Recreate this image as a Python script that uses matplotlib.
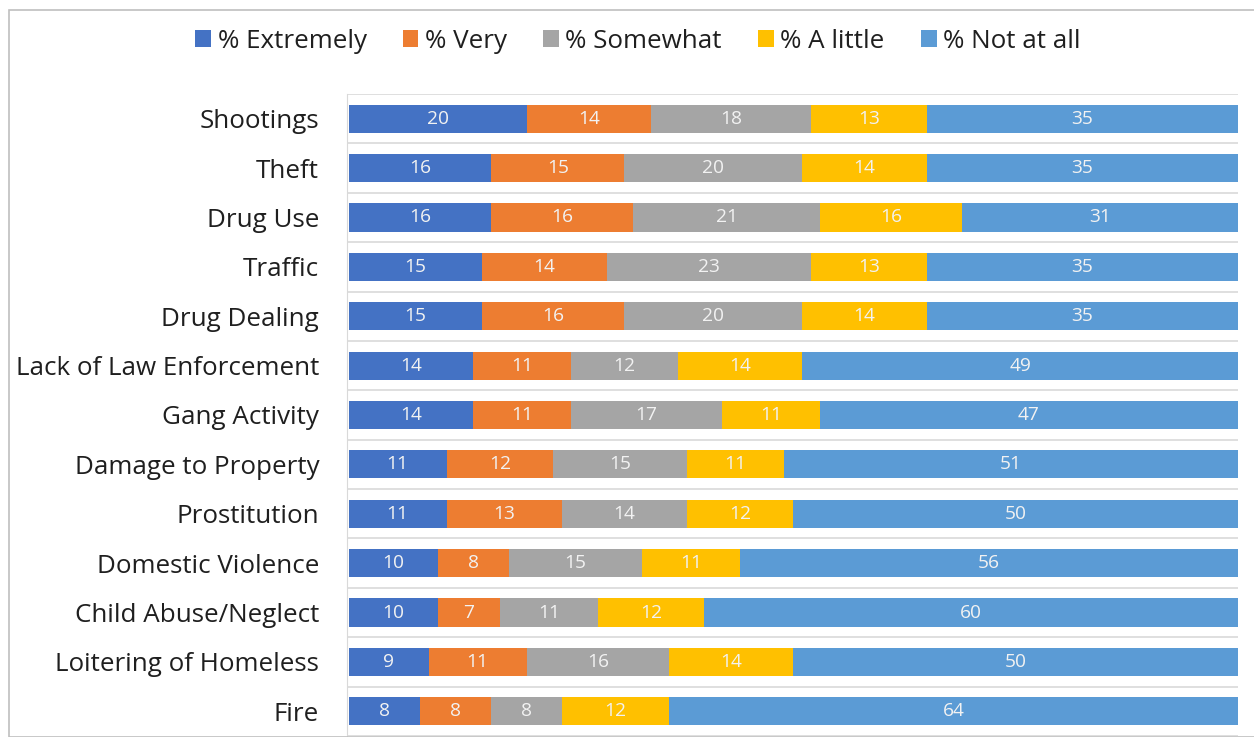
import matplotlib.pyplot as plt
from matplotlib.patches import Rectangle

plt.rcParams['font.family'] = ['Open Sans', 'DejaVu Sans']

categories = ['Shootings', 'Theft', 'Drug Use', 'Traffic', 'Drug Dealing',
              'Lack of Law Enforcement', 'Gang Activity', 'Damage to Property',
              'Prostitution', 'Domestic Violence', 'Child Abuse/Neglect',
              'Loitering of Homeless', 'Fire']
extremely = [20, 16, 16, 15, 15, 14, 14, 11, 11, 10, 10, 9, 8]
very = [14, 15, 16, 14, 16, 11, 11, 12, 13, 8, 7, 11, 8]
somewhat = [18, 20, 21, 23, 20, 12, 17, 15, 14, 15, 11, 16, 8]
a_little = [13, 14, 16, 13, 14, 14, 11, 11, 12, 11, 12, 14, 12]
not_at_all = [35, 35, 31, 35, 35, 49, 47, 51, 50, 56, 60, 50, 64]

series = [('% Extremely', extremely, '#4472C4'),
          ('% Very', very, '#ED7D31'),
          ('% Somewhat', somewhat, '#A5A5A5'),
          ('% A little', a_little, '#FFC000'),
          ('% Not at all', not_at_all, '#5B9BD5')]

W, H = 1254, 737
fig = plt.figure(figsize=(W / 100, H / 100), dpi=100)
ax = fig.add_axes([347 / W, 1 - 736 / H, (1238 - 347) / W, (736 - 94) / H])

# outer chart border
fig.patches.append(Rectangle((9 / W, 0), 1.0, (H - 10) / H, transform=fig.transFigure,
                             fill=False, edgecolor='#BFBFBF', linewidth=1.2))

y = list(range(len(categories)))
left = [0] * len(categories)
for name, vals, color in series:
    bars = ax.barh(y, vals, left=left, height=0.57, color=color, label=name, zorder=2)
    for b, v in zip(bars, vals):
        ax.text(b.get_x() + b.get_width() / 2, b.get_y() + b.get_height() / 2, str(v),
                ha='center', va='center', color='#F2F2F2', fontsize=13.8, zorder=3)
    left = [l + v for l, v in zip(left, vals)]

ax.set_xlim(-0.2, 100)
ax.set_ylim(len(categories) - 0.5, -0.5)
ax.set_yticks(y)
ax.set_yticklabels(categories, fontsize=18.7, color='#1f1f1f')
ax.tick_params(axis='y', length=0, pad=20)
ax.set_xticks([])

# separators between categories
for k in range(len(categories) + 1):
    ax.axhline(k - 0.5, color='#D9D9D9', linewidth=1.2, zorder=1)

for s in ['top', 'right', 'bottom']:
    ax.spines[s].set_visible(False)
ax.spines['left'].set_color('#D9D9D9')

fig.legend(loc='center', bbox_to_anchor=(638 / W, 1 - 41 / H), ncol=5, frameon=False,
           fontsize=18.7, handlelength=0.6, handleheight=0.6, handletextpad=0.25,
           columnspacing=1.4, labelcolor='#1f1f1f')

plt.savefig('out.png', dpi=100)
